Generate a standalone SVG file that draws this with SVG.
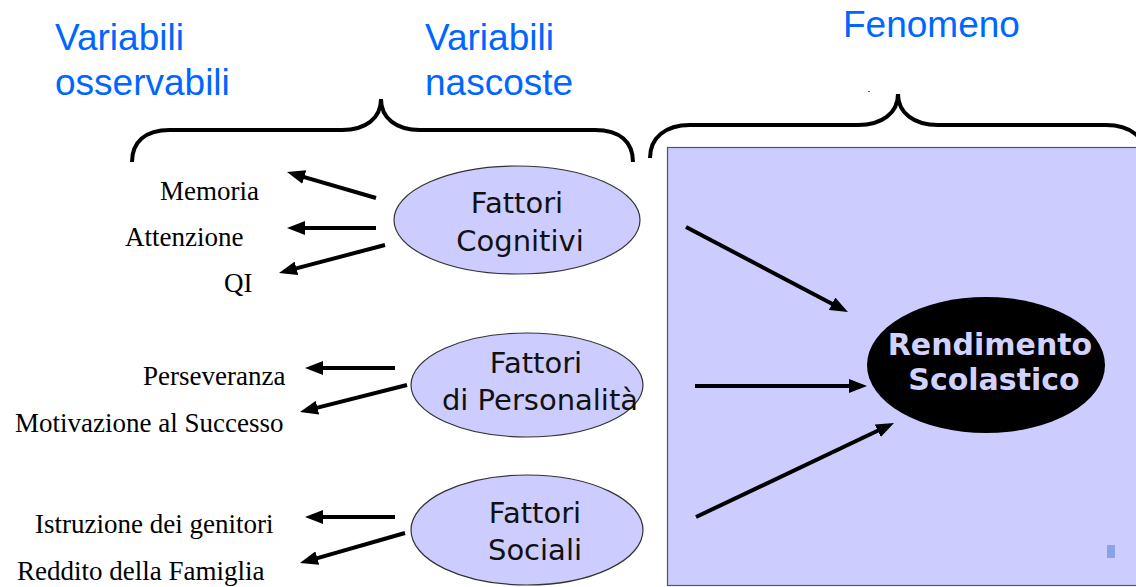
<svg xmlns="http://www.w3.org/2000/svg" width="1136" height="587" viewBox="0 0 1136 587">
<style>
.hdr{font-family:"Liberation Sans",Arial,sans-serif;font-size:37px;fill:#0066FF}
.obs{font-family:"Liberation Serif","Times New Roman",serif;font-size:27px;fill:#000}
.lat{font-family:"DejaVu Sans",Verdana,sans-serif;font-size:29px;fill:#111;text-anchor:middle}
.ell{fill:#CCCCFF;stroke:#333;stroke-width:1.2}
.brace{fill:none;stroke:#000;stroke-width:4;stroke-linecap:butt}
.arr{stroke:#000;stroke-width:4;fill:none;marker-end:url(#ah)}
.res{font-family:"DejaVu Sans",Verdana,sans-serif;font-size:30px;font-weight:bold;fill:#D2D2FF;text-anchor:middle}
</style>
<defs>
<marker id="ah" markerUnits="userSpaceOnUse" viewBox="0 0 18 14" markerWidth="18" markerHeight="14" refX="8" refY="7" orient="auto">
<path d="M0,0 L18,7 L0,14 z" fill="#000"/>
</marker>
</defs>
<rect width="1136" height="587" fill="#fff"/>

<g id="headers">
<text class="hdr" x="55" y="50">Variabili</text>
<text class="hdr" x="55" y="95">osservabili</text>
<text class="hdr" x="425" y="50">Variabili</text>
<text class="hdr" x="425" y="95">nascoste</text>
<text class="hdr" x="843" y="37">Fenomeno</text>
</g>

<g id="braces">
<path class="brace" d="M132,162 C132,142 145,130 170,130 L342,130 C366,130 381,118 381,99 C381,118 396,130 420,130 L595,130 C620,130 633,142 633,162"/>
<path class="brace" d="M650,158 C650,138 665,125 690,125 L858,125 C882,125 898,113 898,94 C898,113 914,125 938,125 L1106,125 C1131,125 1146,138 1146,158"/>
<rect x="868" y="91" width="2" height="1" fill="#E03030"/>
</g>

<g id="fenomeno-panel">
<rect x="667.5" y="147.5" width="480" height="438" fill="#CCCCFF" stroke="#555" stroke-width="1.2"/>
<rect x="1107" y="545" width="8" height="13" fill="#8AA2E6"/>
</g>

<g id="observed">
<text class="obs" x="160" y="200">Memoria</text>
<text class="obs" x="125" y="246">Attenzione</text>
<text class="obs" x="224" y="292">QI</text>
<text class="obs" x="143" y="385">Perseveranza</text>
<text class="obs" x="15" y="432">Motivazione al Successo</text>
<text class="obs" x="35" y="533">Istruzione dei genitori</text>
<text class="obs" x="17" y="580">Reddito della Famiglia</text>
</g>

<g id="node-cognitivi">
<ellipse class="ell" cx="517" cy="220" rx="123" ry="54"/>
<text class="lat" x="517" y="213">Fattori</text>
<text class="lat" x="520" y="251">Cognitivi</text>
</g>

<g id="node-personalita">
<ellipse class="ell" cx="527" cy="385" rx="116" ry="52"/>
<text class="lat" x="536" y="373">Fattori</text>
<text class="lat" x="540" y="410">di Personalità</text>
</g>

<g id="node-sociali">
<ellipse class="ell" cx="527" cy="530" rx="116" ry="55"/>
<text class="lat" x="535" y="523">Fattori</text>
<text class="lat" x="535" y="560">Sociali</text>
</g>

<g id="node-rendimento">
<ellipse cx="986" cy="365" rx="119" ry="68" fill="#000"/>
<text class="res" x="990" y="355">Rendimento</text>
<text class="res" x="994" y="390">Scolastico</text>
</g>

<g id="connectors">
<line class="arr" x1="376" y1="198" x2="296.6" y2="174.8"/>
<line class="arr" x1="376" y1="228" x2="297" y2="228"/>
<line class="arr" x1="385" y1="245" x2="288.7" y2="270.4"/>
<line class="arr" x1="395" y1="368" x2="315" y2="368"/>
<line class="arr" x1="407" y1="385" x2="309.7" y2="409.6"/>
<line class="arr" x1="395" y1="517" x2="315" y2="517"/>
<line class="arr" x1="405" y1="533" x2="309.6" y2="560.3"/>
<line class="arr" x1="686" y1="227" x2="839.1" y2="307.4"/>
<line class="arr" x1="695" y1="386" x2="857" y2="386"/>
<line class="arr" x1="696" y1="517" x2="885" y2="427.3"/>
</g>
</svg>
